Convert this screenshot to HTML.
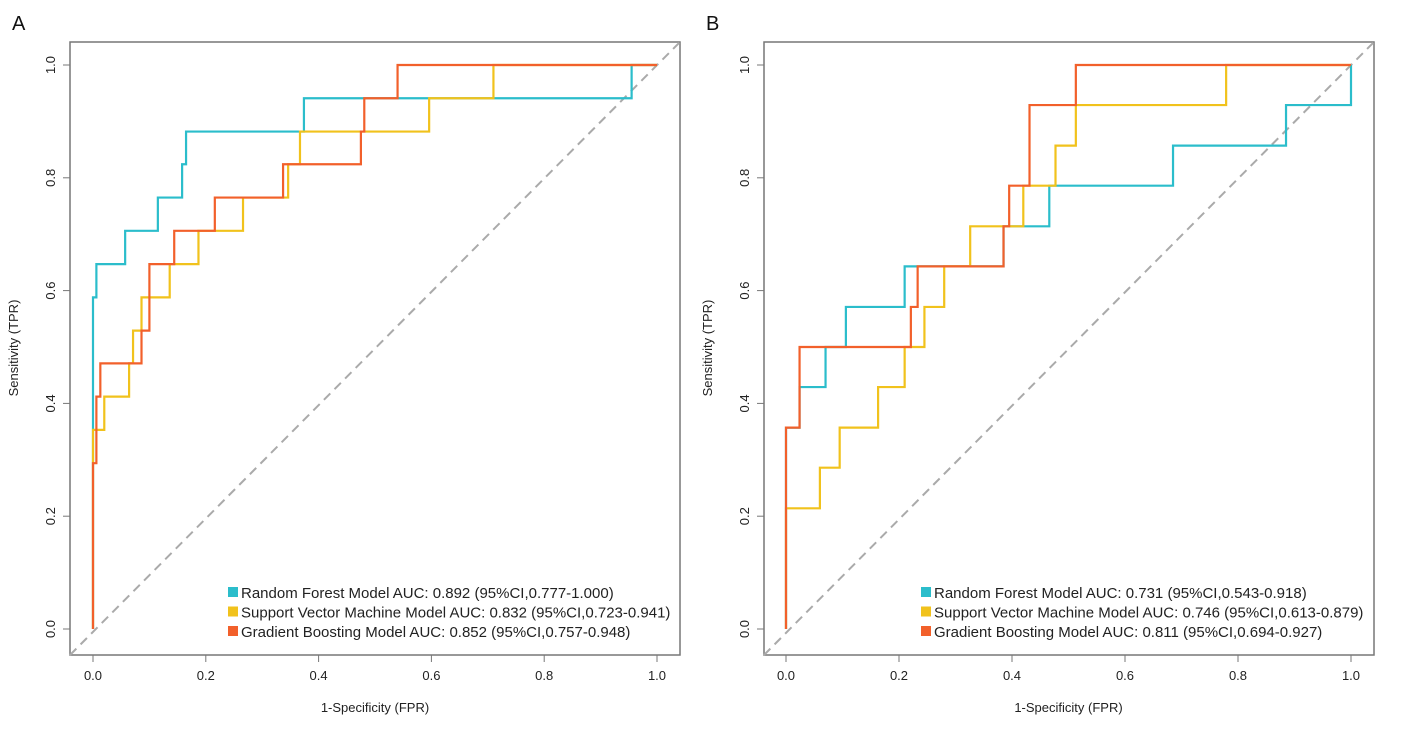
<!DOCTYPE html>
<html><head><meta charset="utf-8">
<style>
body{margin:0;background:#fff;font-family:"Liberation Sans",Arial,sans-serif;}
svg text{font-family:"Liberation Sans",Arial,sans-serif;}
</style></head>
<body>
<svg id="chart" width="1417" height="732" xmlns="http://www.w3.org/2000/svg"></svg>
<script>
const ticks = [0, 0.2, 0.4, 0.6, 0.8, 1.0];
const tickLabels = ["0.0", "0.2", "0.4", "0.6", "0.8", "1.0"];
const seriesNames = ["Random Forest Model", "Support Vector Machine Model", "Gradient Boosting Model"];
const colors = ["#2bbdcb", "#f1c21c", "#f2602b"];
const legendA = ["Random Forest Model AUC: 0.892 (95%CI,0.777-1.000)", "Support Vector Machine Model AUC: 0.832 (95%CI,0.723-0.941)", "Gradient Boosting Model AUC: 0.852 (95%CI,0.757-0.948)"];
const legendB = ["Random Forest Model AUC: 0.731 (95%CI,0.543-0.918)", "Support Vector Machine Model AUC: 0.746 (95%CI,0.613-0.879)", "Gradient Boosting Model AUC: 0.811 (95%CI,0.694-0.927)"];
// step points: [fpr, tpr]
const rfA = [[0,0],[0,0.588],[0.006,0.588],[0.006,0.647],[0.057,0.647],[0.057,0.706],[0.115,0.706],[0.115,0.765],[0.158,0.765],[0.158,0.824],[0.165,0.824],[0.165,0.882],[0.374,0.882],[0.374,0.941],[0.955,0.941],[0.955,1],[1,1]];
const svmA = [[0,0],[0,0.294],[0,0.353],[0.02,0.353],[0.02,0.412],[0.064,0.412],[0.064,0.471],[0.071,0.471],[0.071,0.529],[0.086,0.529],[0.086,0.588],[0.136,0.588],[0.136,0.647],[0.187,0.647],[0.187,0.706],[0.266,0.706],[0.266,0.765],[0.346,0.765],[0.346,0.824],[0.367,0.824],[0.367,0.882],[0.596,0.882],[0.596,0.941],[0.71,0.941],[0.71,1],[1,1]];
const gbA = [[0,0],[0,0.294],[0.006,0.294],[0.006,0.412],[0.013,0.412],[0.013,0.471],[0.086,0.471],[0.086,0.529],[0.1,0.529],[0.1,0.647],[0.144,0.647],[0.144,0.706],[0.216,0.706],[0.216,0.765],[0.337,0.765],[0.337,0.824],[0.475,0.824],[0.475,0.882],[0.481,0.882],[0.481,0.941],[0.54,0.941],[0.54,1],[1,1]];
const rfB = [[0,0],[0,0.357],[0.024,0.357],[0.024,0.429],[0.07,0.429],[0.07,0.5],[0.106,0.5],[0.106,0.571],[0.21,0.571],[0.21,0.643],[0.385,0.643],[0.385,0.714],[0.466,0.714],[0.466,0.786],[0.685,0.786],[0.685,0.857],[0.885,0.857],[0.885,0.929],[1,0.929],[1,1]];
const svmB = [[0,0],[0,0.214],[0.06,0.214],[0.06,0.286],[0.095,0.286],[0.095,0.357],[0.163,0.357],[0.163,0.429],[0.21,0.429],[0.21,0.5],[0.245,0.5],[0.245,0.571],[0.28,0.571],[0.28,0.643],[0.326,0.643],[0.326,0.714],[0.42,0.714],[0.42,0.786],[0.477,0.786],[0.477,0.857],[0.513,0.857],[0.513,0.929],[0.779,0.929],[0.779,1],[1,1]];
const gbB = [[0,0],[0,0.357],[0.024,0.357],[0.024,0.5],[0.221,0.5],[0.221,0.571],[0.233,0.571],[0.233,0.643],[0.385,0.643],[0.385,0.714],[0.395,0.714],[0.395,0.786],[0.431,0.786],[0.431,0.929],[0.513,0.929],[0.513,1],[1,1]];

const NS = "http://www.w3.org/2000/svg";
const svg = document.getElementById("chart");
function mk(tag, attrs, parent) {
  const e = document.createElementNS(NS, tag);
  for (const k in attrs) e.setAttribute(k, attrs[k]);
  (parent || svg).appendChild(e);
  return e;
}
function panel(id, letter, bx, x0, x1, series, legend, legX) {
  const y0 = 629, y1 = 65;
  const sx = v => x0 + v * (x1 - x0);
  const sy = v => y0 + v * (y1 - y0);
  const g = mk("g", {});
  
  
  const t = mk("text", {x: bx - 58, y: 30, "font-size": 20, fill: "#111"}, g);
  t.textContent = letter;
  
  
  const box = mk("rect", {x: bx, y: 42, width: 610, height: 613, fill: "none", stroke: "#777", "stroke-width": 1.5}, g);
  
  
  ticks.forEach((v, i) => {
    const tl = mk("line", {x1: sx(v), x2: sx(v), y1: 655, y2: 662, stroke: "#777"}, g);
    
    
    const tx = mk("text", {x: sx(v), y: 680, "font-size": 13, "text-anchor": "middle", fill: "#222"}, g);
    tx.textContent = tickLabels[i];
    
    
    const yl = mk("line", {x1: bx - 7, x2: bx, y1: sy(v), y2: sy(v), stroke: "#777"}, g);
    
    
    const ty = mk("text", {x: bx - 15, y: sy(v), "font-size": 13, "text-anchor": "middle", fill: "#222", transform: `rotate(-90 ${bx - 15} ${sy(v)})`}, g);
    ty.textContent = tickLabels[i];
    
    
  });
  const xt = mk("text", {x: (x0 + x1) / 2, y: 712, "font-size": 13, "text-anchor": "middle", fill: "#222"}, g);
  xt.textContent = "1-Specificity (FPR)";
  
  
  const yt = mk("text", {x: bx - 52, y: 348, "font-size": 13, "text-anchor": "middle", fill: "#222", transform: `rotate(-90 ${bx - 52} 348)`}, g);
  yt.textContent = "Sensitivity (TPR)";
  
  
  const dg = mk("line", {x1: bx, y1: 655, x2: bx + 610, y2: 42, stroke: "#aaa", "stroke-width": 2, "stroke-dasharray": "9,6"}, g);
  
  
  series.forEach((pts, i) => {
    const p = mk("polyline", {points: pts.map(q => sx(q[0]) + "," + sy(q[1])).join(" "), fill: "none", stroke: colors[i], "stroke-width": 2.2}, g);
    
    
  });
  legend.forEach((s, i) => {
    const y = 593 + i * 19.5;
    const r = mk("rect", {x: legX, y: y - 6, width: 10, height: 10, fill: colors[i]}, g);
    
    
    const lt = mk("text", {x: legX + 13, y: y + 5, "font-size": 15, fill: "#222"}, g);
    lt.textContent = s;
    
    
  });
}
panel("a", "A", 70, 93, 657, [rfA, svmA, gbA], legendA, 228);
panel("b", "B", 764, 786, 1351, [rfB, svmB, gbB], legendB, 921);
</script>
</body></html>
